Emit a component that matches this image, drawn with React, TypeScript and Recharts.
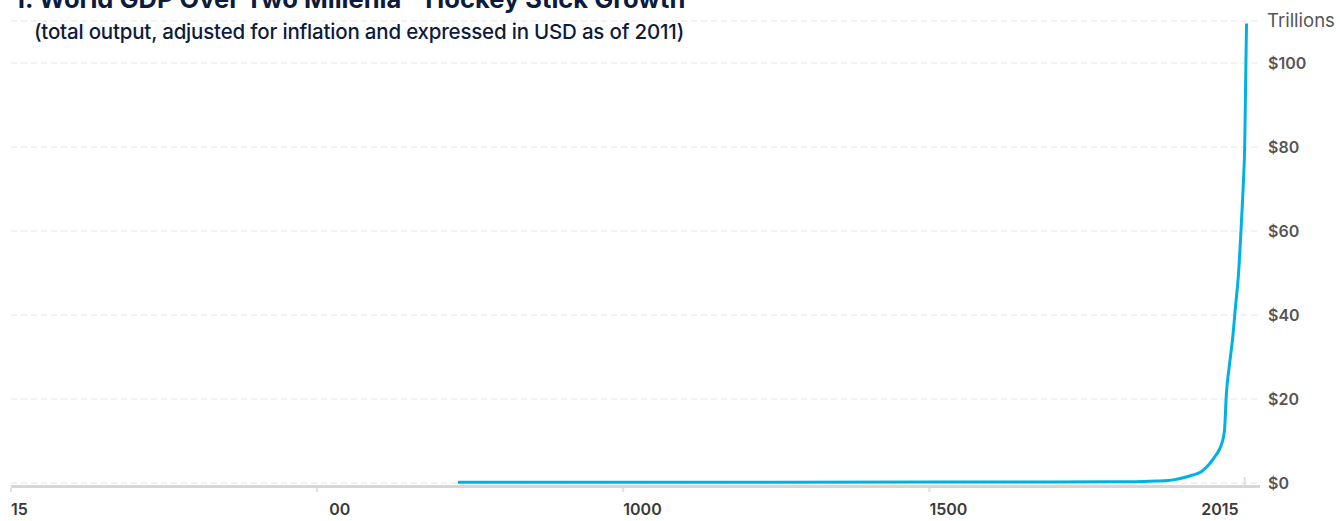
import React from 'react';
import { LineChart, Line, XAxis, YAxis, CartesianGrid } from 'recharts';

// world GDP, trillions of 2011 USD
const years = [730, 1000, 1500, 1600, 1700, 1820, 1850, 1870, 1890, 1900, 1913, 1930, 1944, 1952, 1960, 1966, 1973, 1978, 1982, 1985, 1990, 1995, 2000, 2005, 2010, 2013, 2015, 2017, 2018];
const gdp = [0.2, 0.2, 0.22, 0.24, 0.26, 0.3, 0.35, 0.45, 0.6, 0.8, 1.2, 1.9, 2.7, 3.7, 5.0, 6.2, 7.8, 9.6, 12.5, 21, 28, 34, 42, 50, 63, 72, 80, 100, 109.4];

const xTicks = [0, 500, 1000, 1500, 2015];
const xTickLabels = ['15', '00', '1000', '1500', '2015'];
const yTicks = [0, 20, 40, 60, 80, 100];
const yTickLabels = ['$0', '$20', '$40', '$60', '$80', '$100'];

const data = years.map((year, i) => ({ year, gdp: gdp[i] }));

const FONT = 'Inter, "Open Sans", sans-serif';

const XTick = (props: any) => {
  const { x, y, payload } = props;
  const i = xTicks.indexOf(payload.value);
  const label = xTickLabels[i];
  const last = i === xTicks.length - 1;
  const dx = i === 1 ? 12 : last ? -6 : 0;
  return (
    <g>
      <line x1={x} x2={x} y1={last ? y - 6 : y + 5} y2={last ? y + 2 : y + 9} stroke="#e0e0e0" strokeWidth={2} />
      <text x={x + dx} y={y + 32} textAnchor={last ? 'end' : 'start'} fontFamily={FONT} fontSize={16} fontWeight={600} fill="#3a3a3a">
        {label}
      </text>
    </g>
  );
};

const YTick = (props: any) => {
  const { x, y, payload } = props;
  const label = yTickLabels[yTicks.indexOf(payload.value)];
  return (
    <text x={x} y={y} dy="0.35em" textAnchor="start" fontFamily={FONT} fontSize={16} fontWeight={600} fill="#555">
      {label}
    </text>
  );
};

const App = () => (
  <div style={{ position: 'absolute', left: 0, top: 0, width: 1340, height: 521, overflow: 'hidden', background: '#fff', fontFamily: FONT }}>
    <div style={{ position: 'absolute', left: 14, top: -14, fontSize: 25.5, lineHeight: '26px', fontWeight: 700, color: '#0d1b3e', whiteSpace: 'nowrap' }}>
      1. World GDP Over Two Millenia - Hockey Stick Growth
    </div>
    <div style={{ position: 'absolute', left: 34, top: 20, fontSize: 20.5, lineHeight: '24px', fontWeight: 500, color: '#0d1b3e', whiteSpace: 'nowrap', letterSpacing: -0.2 }}>
      (total output, adjusted for inflation and expressed in USD as of 2011)
    </div>
    <div style={{ position: 'absolute', left: 1267, top: 8, fontSize: 18.5, lineHeight: '24px', color: '#555', whiteSpace: 'nowrap' }}>
      Trillions
    </div>
    <LineChart width={1340} height={521} data={data} margin={{ top: 21, right: 0, bottom: 0, left: 11 }}>
      <CartesianGrid horizontal vertical={false} stroke="#e4e4e4" strokeDasharray="6 4" />
      <XAxis
        dataKey="year"
        type="number"
        domain={[0, 2040]}
        ticks={xTicks}
        tick={<XTick />}
        tickLine={false}
        tickSize={0}
        tickMargin={0}
        axisLine={{ stroke: '#d6d6d6', strokeWidth: 3, transform: 'translate(0,3.5)' }}
        height={38}
        interval={0}
      />
      <YAxis
        orientation="right"
        domain={[0, 110]}
        ticks={yTicks}
        tick={<YTick />}
        axisLine={false}
        tickLine={false}
        tickSize={0}
        tickMargin={8}
        width={80}
        interval={0}
      />
      <Line type="monotone" dataKey="gdp" stroke="#00b2e2" strokeWidth={3} dot={false} isAnimationActive={false} />
    </LineChart>
  </div>
);

export default App;
